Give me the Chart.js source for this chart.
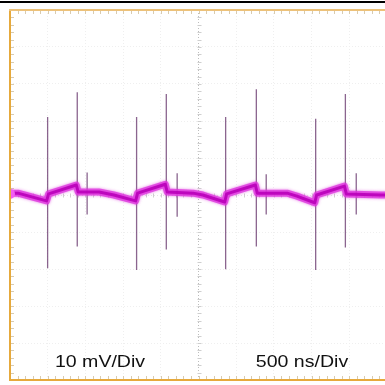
<!DOCTYPE html>
<html>
<head>
<meta charset="utf-8">
<script src="https://cdn.jsdelivr.net/npm/chart.js@4/dist/chart.umd.min.js"></script>
<style>
html,body{margin:0;padding:0;background:#fff;overflow:hidden;width:385px;height:385px;}
#wrap{position:absolute;left:0;top:0;width:392px;height:385px;}
</style>
</head>
<body>
<div id="wrap"><canvas id="c" width="392" height="385"></canvas></div>
<script>
// Trace baseline (time in ns, voltage in mV)
const traceTimeNs = [0,105,485,512,879,905,1181,1378,1666,1692,2060,2086,2427,2558,2847,2873,3254,3280,3674,3805,4041,4067,4435,4461,4920,5000];
const traceMv     = [0.5,0.5,-1.6,0.3,2.7,0.8,0.8,0,-1.6,0.5,2.9,0.8,0.5,0,-1.9,0.3,2.7,0.5,0.5,-0.3,-2.1,0,2.4,0.3,0,0];
// Switching spikes
const spikeTimeNs = [499,892,1023,1679,2073,2217,2860,3267,3398,4054,4448,4592];
const spikeHighMv = [21.1,27.8,6.1,21.1,27.3,5.9,21.1,28.6,5.6,20.6,27.3,5.9];
const spikeLowMv  = [-19.8,-13.9,-5.3,-20.3,-14.7,-5.9,-20.1,-13.9,-5.3,-20.3,-14.2,-5.3];
// Channel marker
const markerTimeNs = [0];
const markerMv = [0.3];
// Scale labels
const voltLabel = "10 mV/Div";
const timeLabel = "500 ns/Div";
// Axis extents
const xMin = 0, xMax = 5000, xStep = 500;
const yMin = -50, yMax = 50, yStep = 10;

const tracePts = traceTimeNs.map((t,i)=>({x:t,y:traceMv[i]}));
const spikePts = [];
spikeTimeNs.forEach((t,i)=>{
  spikePts.push({x:t,y:spikeHighMv[i]});
  spikePts.push({x:t,y:spikeLowMv[i]});
  spikePts.push({x:t,y:null});
});
const markerPts = markerTimeNs.map((t,i)=>({x:t,y:markerMv[i]}));

const scopeDecor = {
  id:'scopeDecor',
  beforeDatasetsDraw(chart){
    const {ctx, chartArea:a, scales:{x,y}} = chart;
    ctx.save();
    ctx.strokeStyle = '#cfcfcf';
    ctx.lineWidth = 1;
    const cx = Math.round(x.getPixelForValue(2500))+0.5;
    const cy = Math.round(y.getPixelForValue(0))+0.5;
    for(let v=yMin; v<=yMax; v+=2){
      const py = Math.round(y.getPixelForValue(v))+0.5;
      ctx.beginPath(); ctx.moveTo(cx-2,py); ctx.lineTo(cx+2,py); ctx.stroke();
    }
    for(let t=xMin; t<=xMax; t+=100){
      const px = Math.round(x.getPixelForValue(t))+0.5;
      ctx.beginPath(); ctx.moveTo(px,cy-2); ctx.lineTo(px,cy+2); ctx.stroke();
    }
    ctx.strokeStyle = '#d8cbb0';
    for(let v=yMin; v<=yMax; v+=2){
      const py = Math.round(y.getPixelForValue(v))+0.5;
      ctx.beginPath(); ctx.moveTo(a.left,py); ctx.lineTo(a.left+4,py); ctx.stroke();
    }
    for(let t=xMin; t<=xMax; t+=100){
      const px = Math.round(x.getPixelForValue(t))+0.5;
      ctx.beginPath(); ctx.moveTo(px,a.bottom); ctx.lineTo(px,a.bottom-4); ctx.stroke();
      ctx.beginPath(); ctx.moveTo(px,a.top); ctx.lineTo(px,a.top+4); ctx.stroke();
    }
    ctx.restore();
  },
  beforeDatasetDraw(chart, args){
    if (args.index === 1) {
      chart.ctx.save();
      chart.ctx.shadowColor = 'rgba(220,60,220,0.9)';
      chart.ctx.shadowBlur = 3;
    }
  },
  afterDatasetDraw(chart, args){
    if (args.index === 1) chart.ctx.restore();
  },
  afterDraw(chart){
    const {ctx, chartArea:a} = chart;
    ctx.save();
    ctx.fillStyle = '#e6a93c';
    ctx.fillRect(a.left-1, a.top-1, 2, a.bottom-a.top+2);
    ctx.fillRect(a.left-1, a.bottom-1, chart.width, 2);
    ctx.fillStyle = '#edc27a';
    ctx.fillRect(a.left-1, a.top-1, chart.width, 2);
    ctx.fillStyle = '#000';
    ctx.fillRect(0, 1, chart.width, 2);
    ctx.fillStyle = '#111';
    ctx.font = "17px 'Liberation Sans', Arial, sans-serif";
    ctx.textAlign = 'center';
    ctx.textBaseline = 'alphabetic';
    const drawStretched = (txt, cx, by) => {
      ctx.save();
      ctx.translate(cx, by);
      ctx.scale(1.15, 1);
      ctx.fillText(txt, 0, 0);
      ctx.restore();
    };
    drawStretched(voltLabel, 100, 367);
    drawStretched(timeLabel, 302, 367);
    ctx.restore();
  }
};

new Chart(document.getElementById('c'), {
  type:'line',
  data:{datasets:[
    {data:spikePts, borderColor:'rgba(100,50,105,0.75)', borderWidth:1.3, pointRadius:0, spanGaps:false, tension:0, order:3},
    {data:tracePts, borderColor:'rgba(222,50,222,0.75)', borderWidth:7, pointRadius:0, tension:0, borderJoinStyle:'round', borderCapStyle:'round', order:2},
    {data:tracePts, borderColor:'rgba(185,0,185,0.9)', borderWidth:3, pointRadius:0, tension:0, borderJoinStyle:'round', order:1},
    {data:markerPts, showLine:false, pointRadius:5, pointBackgroundColor:'#f35df3', pointBorderWidth:0, order:0}
  ]},
  options:{
    responsive:false, animation:false, devicePixelRatio:1,
    layout:{padding:{left:10,top:10,right:1,bottom:1}},
    plugins:{legend:{display:false}, tooltip:{enabled:false}},
    scales:{
      x:{type:'linear', min:xMin, max:xMax,
         ticks:{display:false, stepSize:xStep},
         grid:{drawTicks:false, color:c=>c.tick && c.tick.value===2500 ? '#bdbdbd' : '#efefef', lineWidth:1},
         border:{display:false, dash:[1,2]}},
      y:{type:'linear', min:yMin, max:yMax,
         ticks:{display:false, stepSize:yStep},
         grid:{drawTicks:false, color:c=>c.tick && c.tick.value===0 ? '#e6e6e6' : '#efefef', lineWidth:1},
         border:{display:false, dash:[1,2]}}
    }
  },
  plugins:[scopeDecor]
});
</script>
</body>
</html>
